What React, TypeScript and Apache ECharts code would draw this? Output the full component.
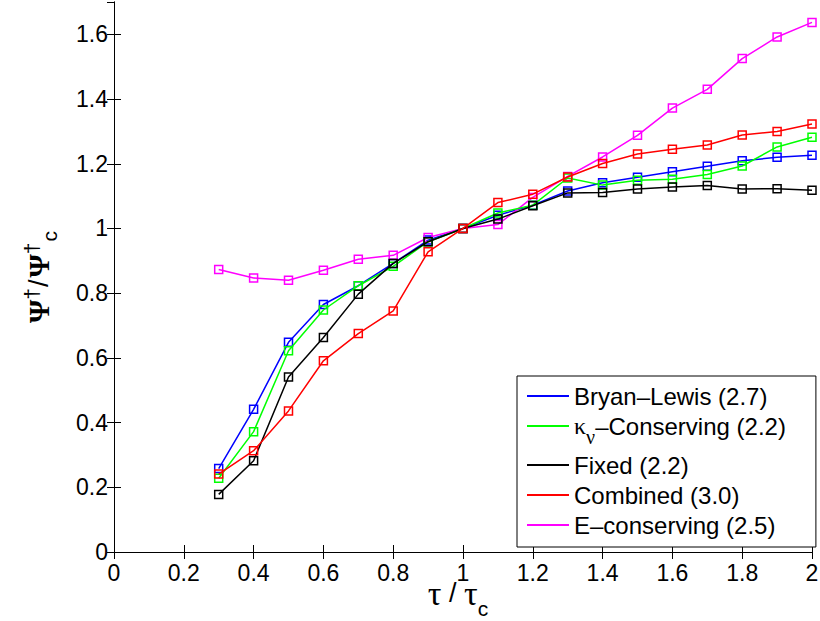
import React, { useEffect, useRef } from "react";
import * as echarts from "echarts";

const tau = [0.3, 0.4, 0.5, 0.6, 0.7, 0.8, 0.9, 1.0, 1.1, 1.2, 1.3, 1.4, 1.5, 1.6, 1.7, 1.8, 1.9, 2.0];
const bryanLewis = [0.258, 0.441, 0.648, 0.765, 0.823, 0.892, 0.964, 1.0, 1.041, 1.072, 1.116, 1.141, 1.158, 1.175, 1.192, 1.209, 1.22, 1.226];
const kappaConserving = [0.228, 0.372, 0.622, 0.748, 0.823, 0.883, 0.959, 1.0, 1.048, 1.072, 1.156, 1.134, 1.149, 1.152, 1.167, 1.193, 1.252, 1.282];
const fixed = [0.178, 0.282, 0.541, 0.663, 0.797, 0.892, 0.959, 1.0, 1.029, 1.07, 1.11, 1.111, 1.122, 1.128, 1.133, 1.122, 1.123, 1.118];
const combined = [0.241, 0.313, 0.436, 0.591, 0.675, 0.745, 0.928, 1.0, 1.08, 1.106, 1.159, 1.201, 1.23, 1.245, 1.258, 1.289, 1.3, 1.323];
const eConserving = [0.873, 0.847, 0.84, 0.871, 0.905, 0.917, 0.972, 1.0, 1.012, 1.096, 1.161, 1.221, 1.288, 1.372, 1.43, 1.525, 1.592, 1.637];

const seriesNames = ["Bryan–Lewis (2.7)", "κ_ν–Conserving (2.2)", "Fixed (2.2)", "Combined (3.0)", "E–conserving (2.5)"];
const seriesColors = ["#0000ff", "#00ff00", "#000000", "#ff0000", "#ff00ff"];
const seriesValues = [bryanLewis, kappaConserving, fixed, combined, eConserving];

const FONT = "'Liberation Sans', Arial, Helvetica, sans-serif";
const SERIF = "'Liberation Serif', 'Times New Roman', serif";

export default function App() {
  const ref = useRef<HTMLDivElement>(null);
  useEffect(() => {
    if (!ref.current) return;
    const chart = echarts.init(ref.current, undefined, { renderer: "svg" });
    const axisCommon = {
      type: "value" as const,
      axisLine: { show: true, lineStyle: { color: "#000", width: 1 } },
      axisTick: { show: true, inside: true, length: 7, lineStyle: { color: "#000" } },
      splitLine: { show: false },
    };
    chart.setOption({
      animation: false,
      backgroundColor: "#fff",
      grid: { left: 114, right: 8, top: 2, bottom: 69, containLabel: false, outerBoundsMode: "none" },
      xAxis: [
        {
          ...axisCommon,
          min: 0,
          max: 2,
          interval: 0.2,
          position: "bottom",
          axisLabel: { color: "#000", fontFamily: FONT, fontSize: 23, margin: 9 },
          name: "{t|τ}{s| / }{t|τ}{c|c}",
          nameLocation: "middle",
          nameGap: 24,
          nameMoveOverlap: false,
          nameTextStyle: {
            color: "#000",
            rich: {
              t: { fontFamily: SERIF, fontSize: 34, color: "#000", verticalAlign: "top" },
              s: { fontFamily: FONT, fontSize: 27, color: "#000", verticalAlign: "top", padding: [3, 0, 0, 0] },
              c: { fontFamily: FONT, fontSize: 21, color: "#000", verticalAlign: "top", padding: [22, 10, 0, 0] },
            },
          },
        },
        {
          ...axisCommon,
          min: 0,
          max: 2,
          interval: 0.2,
          position: "top",
          axisLabel: { show: false },
        },
      ],
      yAxis: [
        {
          ...axisCommon,
          min: 0,
          max: 1.7,
          interval: 0.2,
          position: "left",
          axisLabel: { color: "#000", fontFamily: FONT, fontSize: 23, margin: 6, showMaxLabel: false },
          name: "{p|Ψ}{d|†}{s|/}{p|Ψ}{d|†}{c|c}",
          nameLocation: "middle",
          nameGap: 54,
          nameTextStyle: {
            color: "#000",
            rich: {
              p: { fontFamily: SERIF, fontSize: 30, fontWeight: "bold", color: "#000" },
              d: { fontFamily: FONT, fontSize: 21, color: "#000", padding: [0, 1, 14, 0] },
              s: { fontFamily: FONT, fontSize: 27, color: "#000", padding: [0, 2, 0, 0] },
              c: { fontFamily: FONT, fontSize: 21, color: "#000", padding: [22, 0, 0, 0] },
            },
          },
        },
        {
          ...axisCommon,
          min: 0,
          max: 1.7,
          interval: 0.2,
          position: "right",
          axisLabel: { show: false },
        },
      ],
      legend: {
        orient: "vertical",
        left: 517,
        top: 376,
        width: 287,
        padding: [8, 30, 10, 10],
        backgroundColor: "#fff",
        borderColor: "#000",
        borderWidth: 1,
        icon: "rect",
        itemWidth: 42,
        itemHeight: 2,
        itemGap: 6,
        itemStyle: { borderWidth: 0 },
        data: seriesNames.map((n, i) => ({ name: n, itemStyle: { color: seriesColors[i] } })),
        formatter: (name: string) => {
          if (name.startsWith("κ_ν")) {
            return "{k|κ}{sub|ν}{n|" + name.slice(3) + "}";
          }
          return "{n|" + name + "}";
        },
        textStyle: {
          color: "#000",
          fontFamily: FONT,
          fontSize: 24,
          rich: {
            n: { fontFamily: FONT, fontSize: 24, color: "#000" },
            k: { fontFamily: SERIF, fontSize: 24, color: "#000" },
            sub: { fontFamily: SERIF, fontSize: 20, color: "#000", padding: [22, 0, 0, 0] },
          },
        },
      },
      series: seriesNames.map((n, i) => ({
        type: "line",
        name: n,
        data: tau.map((t, j) => [t, seriesValues[i][j]]),
        symbol: "rect",
        symbolSize: 8,
        showSymbol: true,
        itemStyle: { color: "rgba(255,255,255,0)", borderColor: seriesColors[i], borderWidth: 1.5 },
        lineStyle: { color: seriesColors[i], width: 1.5 },
        z: 2 + (i === 4 ? 0 : i),
      })),
    });
    return () => chart.dispose();
  }, []);
  return <div ref={ref} style={{ width: 820, height: 621, position: "absolute", left: 0, top: 0 }} />;
}
